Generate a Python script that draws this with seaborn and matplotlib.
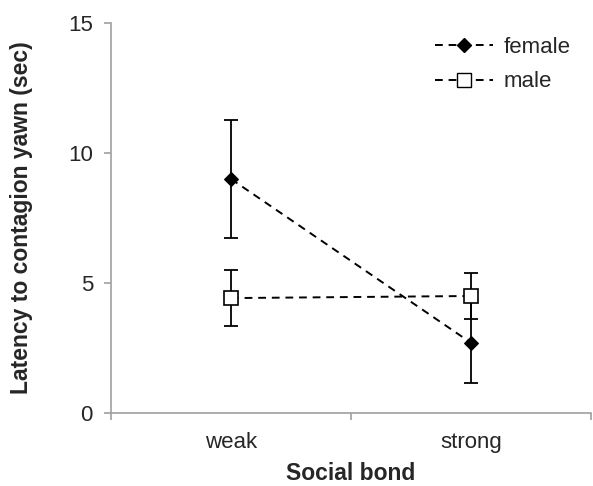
import numpy as np
import pandas as pd
import matplotlib
matplotlib.use('Agg')
import matplotlib.pyplot as plt
import seaborn as sns
from matplotlib.lines import Line2D

# Data
bonds = ['weak', 'strong']
sexes = ['female', 'male']
female_mean = [9.0, 2.7]
female_err = [2.27, 1.55]
male_mean = [4.42, 4.5]
male_err = [1.07, 0.9]

df = pd.DataFrame({
    'Social bond': bonds * 2,
    'Latency': female_mean + male_mean,
    'sex': ['female'] * 2 + ['male'] * 2,
})

sns.set_style('white')
plt.rcParams['font.family'] = ['Liberation Sans', 'DejaVu Sans']

fig = plt.figure(figsize=(5.93, 4.86), dpi=100)
ax = fig.add_axes([0.1872, 0.1502, 0.8094, 0.8025])

x = np.arange(len(bonds))
# error bars first so markers sit on top
ax.errorbar(x, female_mean, yerr=female_err, fmt='none', ecolor='black',
            elinewidth=1.3, capsize=5, capthick=1.3, zorder=2)
ax.errorbar(x, male_mean, yerr=male_err, fmt='none', ecolor='black',
            elinewidth=1.3, capsize=5, capthick=1.3, zorder=2)

sns.lineplot(data=df, x='Social bond', y='Latency', hue='sex', style='sex',
             palette={'female': 'black', 'male': 'black'},
             markers={'female': 'D', 'male': 's'},
             dashes={'female': (4, 3), 'male': (4, 3)},
             linewidth=1.4, ax=ax, zorder=3, legend=False)

# marker faces
lines = ax.get_lines()
lines[-2].set_markerfacecolor('black')
lines[-2].set_markeredgecolor('black')
lines[-2].set_markersize(7)
lines[-1].set_markerfacecolor('white')
lines[-1].set_markeredgecolor('black')
lines[-1].set_markersize(10)
lines[-1].set_markeredgewidth(1.2)
for ln in lines[-2:]:
    ln.set_zorder(4)

handles = [
    Line2D([], [], color='black', ls=(0, (4, 3)), lw=1.4, marker='D',
           markerfacecolor='black', markersize=7),
    Line2D([], [], color='black', ls=(0, (4, 3)), lw=1.4, marker='s',
           markerfacecolor='white', markeredgecolor='black', markersize=10),
]
ax.legend(handles, sexes, loc='upper right', frameon=False, fontsize=16,
          handlelength=2.6, handletextpad=0.5, labelspacing=0.6,
          bbox_to_anchor=(1.0, 1.015))

ax.set_xlim(-0.5, 1.5)
ax.set_ylim(0, 15)
ax.set_yticks([0, 5, 10, 15])
ax.set_xticks(x)
ax.set_xticklabels(bonds)
ax.set_xticks([-0.5, 0.5, 1.5], minor=True)

for s in ['top', 'right']:
    ax.spines[s].set_visible(False)
for s in ['left', 'bottom']:
    ax.spines[s].set_color('#a0a0a0')
    ax.spines[s].set_linewidth(1.2)

ax.tick_params(axis='y', which='major', direction='out', length=5, width=1.2,
               color='#a0a0a0', labelsize=16, left=True, pad=8)
ax.tick_params(axis='x', which='major', length=0, labelsize=16, pad=14)
ax.tick_params(axis='x', which='minor', direction='out', length=5, width=1.2,
               color='#a0a0a0', bottom=True)

ax.set_xlabel('Social bond', fontsize=16.5, fontweight='bold', labelpad=6)
ax.set_ylabel('Latency to contagion yawn (sec)', fontsize=16.5,
              fontweight='bold', labelpad=25)

fig.savefig('out.png', dpi=100)
